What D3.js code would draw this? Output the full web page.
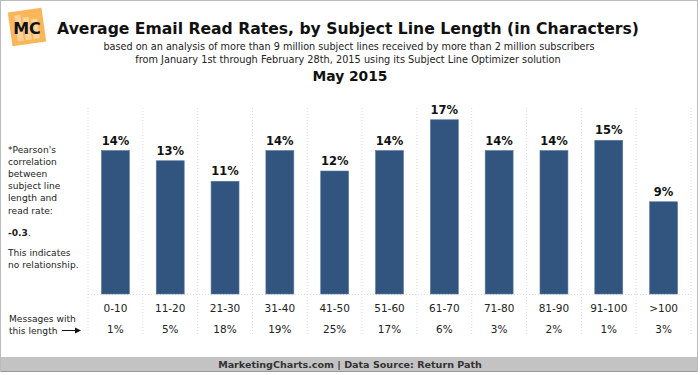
<!DOCTYPE html>
<html>
<head>
<meta charset="utf-8">
<script src="https://cdn.jsdelivr.net/npm/d3@7"></script>
<style>
  body { margin: 0; background: #fff; }
  text { font-family: Verdana, "DejaVu Sans", sans-serif; }
</style>
</head>
<body>
<div id="chart"></div>
<script>
const WIDTH = 700;
const HEIGHT = 375;

const categories = ['0-10', '11-20', '21-30', '31-40', '41-50', '51-60', '61-70', '71-80', '81-90', '91-100', '>100'];
const readRates = [14, 13, 11, 14, 12, 14, 17, 14, 14, 15, 9];
const messageShares = [1, 5, 18, 19, 25, 17, 6, 3, 2, 1, 3];
const noteLines = ["*Pearson's", 'correlation', 'between', 'subject line', 'length and', 'read rate:'];

const svg = d3.select('#chart')
    .append('svg')
    .attr('width', WIDTH)
    .attr('height', HEIGHT);

// shrink/grow font so text spans the width seen in the original
function fit(sel, target) {
    const fs = +sel.attr('font-size');
    const w = sel.node().getComputedTextLength();
    sel.attr('font-size', (fs * target / w).toFixed(2));
    return sel;
}

// frame + footer
svg.append('rect')
    .attr('x', 0.5).attr('y', 0.5)
    .attr('width', 697).attr('height', 371)
    .attr('fill', '#fff')
    .attr('stroke', '#bbb');

svg.append('rect')
    .attr('x', 1).attr('y', 357)
    .attr('width', 696).attr('height', 14)
    .attr('fill', '#c3c3c3');
svg.append('line')
    .attr('x1', 1).attr('x2', 697)
    .attr('y1', 371.5).attr('y2', 371.5)
    .attr('stroke', '#999');

fit(svg.append('text')
    .attr('x', 350).attr('y', 368)
    .attr('text-anchor', 'middle')
    .attr('font-size', 11)
    .attr('font-weight', 'bold')
    .attr('fill', '#333')
    .text('MarketingCharts.com | Data Source: Return Path'), 264);

// logo
const logo = svg.append('g').attr('transform', 'translate(27,27) rotate(-8)');
logo.append('rect')
    .attr('x', -17).attr('y', -17)
    .attr('width', 34).attr('height', 34)
    .attr('fill', '#fbb65a');
[-11, -3, 5].forEach((bx, i) => {
    logo.append('rect')
        .attr('x', bx).attr('y', -13 + i * 3)
        .attr('width', 6).attr('height', 26 - i * 3)
        .attr('fill', '#fdd39a');
});
svg.append('text')
    .attr('x', 27).attr('y', 34)
    .attr('text-anchor', 'middle')
    .attr('font-size', 16)
    .attr('font-weight', 'bold')
    .attr('fill', '#111')
    .text('MC');

// titles
fit(svg.append('text')
    .attr('x', 348).attr('y', 34)
    .attr('text-anchor', 'middle')
    .attr('font-size', 18)
    .attr('font-weight', 'bold')
    .attr('fill', '#111')
    .text('Average Email Read Rates, by Subject Line Length (in Characters)'), 582);

fit(svg.append('text')
    .attr('x', 349).attr('y', 50)
    .attr('text-anchor', 'middle')
    .attr('font-size', 11)
    .attr('fill', '#222')
    .text('based on an analysis of more than 9 million subject lines received by more than 2 million subscribers'), 492);
fit(svg.append('text')
    .attr('x', 348).attr('y', 63)
    .attr('text-anchor', 'middle')
    .attr('font-size', 11)
    .attr('fill', '#222')
    .text('from January 1st through February 28th, 2015 using its Subject Line Optimizer solution'), 426);
fit(svg.append('text')
    .attr('x', 350).attr('y', 81)
    .attr('text-anchor', 'middle')
    .attr('font-size', 15)
    .attr('font-weight', 'bold')
    .attr('fill', '#111')
    .text('May 2015'), 75);

// scales
const x = d3.scaleBand()
    .domain(categories)
    .range([88, 691])
    .paddingInner(0.49)
    .paddingOuter(0.245);

const y = d3.scaleLinear()
    .domain([0, 20])
    .range([294, 89]);

// dotted grid
const step = x.step();
svg.selectAll('line.grid')
    .data(d3.range(categories.length + 1))
    .enter()
    .append('line')
    .attr('class', 'grid')
    .attr('x1', i => 88 + i * step)
    .attr('x2', i => 88 + i * step)
    .attr('y1', 108).attr('y2', 336)
    .attr('stroke', '#ddd')
    .attr('stroke-dasharray', '1,2');

svg.append('line')
    .attr('x1', 88).attr('x2', 691)
    .attr('y1', 294.5).attr('y2', 294.5)
    .attr('stroke', '#ddd')
    .attr('stroke-dasharray', '1,2');

// bars
svg.selectAll('rect.bar')
    .data(readRates)
    .enter()
    .append('rect')
    .attr('class', 'bar')
    .attr('x', (d, i) => x(categories[i]))
    .attr('y', d => y(d))
    .attr('width', x.bandwidth())
    .attr('height', d => y(0) - y(d))
    .attr('fill', '#31557e')
    .attr('stroke', '#5a7aa0')
    .attr('stroke-width', 0.6);

svg.selectAll('text.val')
    .data(readRates)
    .enter()
    .append('text')
    .attr('class', 'val')
    .attr('x', (d, i) => x(categories[i]) + x.bandwidth() / 2)
    .attr('y', d => y(d) - 6)
    .attr('text-anchor', 'middle')
    .attr('font-size', 11.5)
    .attr('font-weight', 'bold')
    .attr('fill', '#111')
    .text(d => d + '%');

// category + share rows
svg.selectAll('text.cat')
    .data(categories)
    .enter()
    .append('text')
    .attr('class', 'cat')
    .attr('x', d => x(d) + x.bandwidth() / 2)
    .attr('y', 312)
    .attr('text-anchor', 'middle')
    .attr('font-size', 10.5)
    .attr('fill', '#222')
    .text(d => d);

svg.selectAll('text.share')
    .data(messageShares)
    .enter()
    .append('text')
    .attr('class', 'share')
    .attr('x', (d, i) => x(categories[i]) + x.bandwidth() / 2)
    .attr('y', 333)
    .attr('text-anchor', 'middle')
    .attr('font-size', 10.5)
    .attr('fill', '#222')
    .text(d => d + '%');

svg.append('text')
    .attr('x', 9).attr('y', 322)
    .attr('font-size', 9.1)
    .attr('fill', '#222')
    .text('Messages with');
svg.append('text')
    .attr('x', 9).attr('y', 334)
    .attr('font-size', 9.1)
    .attr('fill', '#222')
    .text('this length');
svg.append('line')
    .attr('x1', 62).attr('x2', 77)
    .attr('y1', 330.5).attr('y2', 330.5)
    .attr('stroke', '#111')
    .attr('stroke-width', 1);
svg.append('path')
    .attr('d', 'M75,327.5 L81,330.5 L75,333.5 Z')
    .attr('fill', '#111');

// left note
svg.selectAll('text.note')
    .data(noteLines)
    .enter()
    .append('text')
    .attr('class', 'note')
    .attr('x', 8)
    .attr('y', (d, i) => 152.5 + i * 12.2)
    .attr('font-size', 9.1)
    .attr('fill', '#222')
    .text(d => d);

const r = svg.append('text')
    .attr('x', 8).attr('y', 235.5)
    .attr('font-size', 9.1)
    .attr('fill', '#222');
r.append('tspan').attr('font-weight', 'bold').text('-0.3');
r.append('tspan').text('.');

svg.append('text')
    .attr('x', 8).attr('y', 255.5)
    .attr('font-size', 9.1)
    .attr('fill', '#222')
    .text('This indicates');
svg.append('text')
    .attr('x', 8).attr('y', 267.5)
    .attr('font-size', 9.1)
    .attr('fill', '#222')
    .text('no relationship.');
</script>
</body>
</html>
